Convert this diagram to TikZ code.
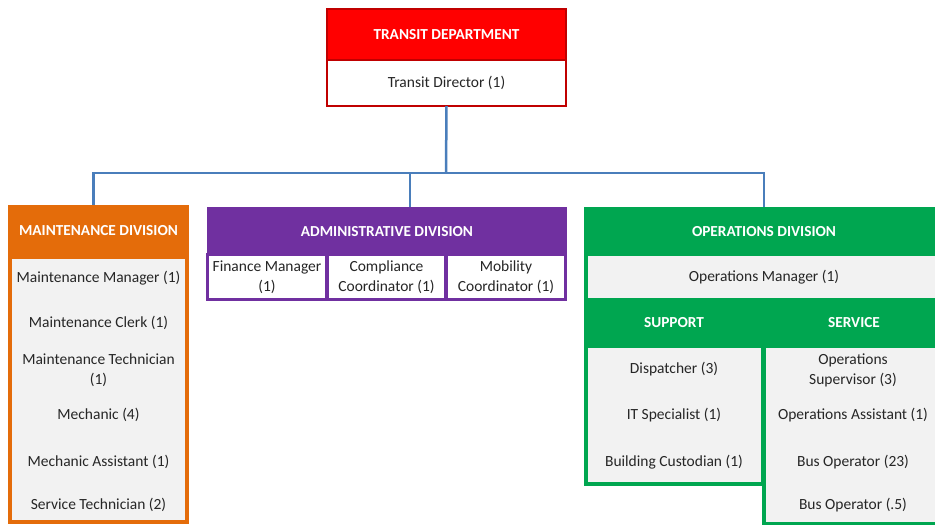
\documentclass[tikz,border=0pt]{standalone}
\usepackage{fontspec}
\setmainfont{Carlito}
\definecolor{deptfill}{HTML}{FF0000}
\definecolor{deptedge}{HTML}{C00000}
\definecolor{maintfill}{HTML}{E46C0A}
\definecolor{adminfill}{HTML}{7030A0}
\definecolor{opsfill}{HTML}{00A650}
\definecolor{listfill}{HTML}{F2F2F2}
\definecolor{linkedge}{HTML}{4A7EBB}
\definecolor{posttext}{HTML}{262626}

\begin{document}
\begin{tikzpicture}[x=1pt, y=-1pt,
  divhead/.style={rectangle, fill=#1, text=white, inner sep=0pt, outer sep=0pt,
                  font=\fontsize{15.3}{18}\selectfont\bfseries},
  divbody/.style 2 args={rectangle, draw=#1, line width=#2, fill=listfill,
                  inner sep=0pt, outer sep=0pt},
  post/.style={align=center, text=posttext, font=\fontsize{15.5}{20}\selectfont},
  link/.style={draw=linkedge, line width=2.5pt},
]
\useasboundingbox (0,0) rectangle (935,525);
\clip (0,0) rectangle (935,525);
% ================= department (top) ========================================
\node[divhead=deptfill, draw=deptedge, line width=2.5pt, minimum width=239pt,
      minimum height=51pt] (dept) at (446.5,34.5) {TRANSIT DEPARTMENT};
\node[divbody={deptedge}{2.5pt}, post, fill=white, minimum width=239pt,
      minimum height=46pt, anchor=north] (director) at (dept.south) {Transit Director (1)};
% ================= maintenance division (left) =============================
\node[divhead=maintfill, minimum width=181pt, minimum height=52pt] (maint) at (98.5,231) {MAINTENANCE DIVISION};
\node[divbody={maintfill}{4pt}, minimum width=177pt, minimum height=265pt,
      anchor=north] (maintlist) at (maint.south) {};
\node[post] (mmgr) at (98.5,278) {Maintenance Manager (1)};
\node[post] (mclerk) at (98.5,323) {Maintenance Clerk (1)};
\node[post] (mtech) at (98.5,370) {Maintenance Technician\\(1)};
\node[post] (mechanic) at (98.5,415) {Mechanic (4)};
\node[post] (mechassist) at (98.5,462) {Mechanic Assistant (1)};
\node[post] (servtech) at (98.5,505) {Service Technician (2)};
% ================= administrative division (middle) ========================
\node[divhead=adminfill, minimum width=360pt, minimum height=49pt] (admin) at (387,231.5) {ADMINISTRATIVE DIVISION};
\node[divbody={adminfill}{3pt}, post, fill=white, minimum width=119pt,
      minimum height=45pt] (finance) at (267,277) {Finance Manager\\(1)};
\node[divbody={adminfill}{3pt}, post, fill=white, minimum width=118pt,
      minimum height=45pt] (compliance) at (386.5,277) {Compliance\\Coordinator (1)};
\node[divbody={adminfill}{3pt}, post, fill=white, minimum width=119pt,
      minimum height=45pt] (mobility) at (506,277) {Mobility\\Coordinator (1)};
% ================= operations division (right, runs off the edge) ==========
\node[divhead=opsfill, minimum width=360pt, minimum height=49pt] (ops) at (764,231.5) {OPERATIONS DIVISION};
\node[divbody={opsfill}{4pt}, post, minimum width=356pt, minimum height=46pt] (opsmgr) at (764,277) {Operations Manager (1)};
\node[divhead=opsfill, minimum width=180pt, minimum height=50pt] (support) at (674,323) {SUPPORT};
\node[divhead=opsfill, minimum width=180pt, minimum height=50pt] (service) at (854,323) {SERVICE};
\node[divbody={opsfill}{4pt}, minimum width=177pt, minimum height=138pt] (supportlist) at (674.5,415) {};
\node[divbody={opsfill}{4pt}, minimum width=182pt, minimum height=178pt] (servicelist) at (855,435) {};
% support column
\node[post] (dispatcher) at (674,369) {Dispatcher (3)};
\node[post] (itspec) at (674,415) {IT Specialist (1)};
\node[post] (custodian) at (674,462) {Building Custodian (1)};
% service column
\node[post] (supervisor) at (853,370) {Operations\\Supervisor (3)};
\node[post] (opsassist) at (853,415) {Operations Assistant (1)};
\node[post] (busop) at (853,462) {Bus Operator (23)};
\node[post] (busophalf) at (853,505) {Bus Operator (.5)};
% ================= reporting lines =========================================
\coordinate (bus) at (446,173);
\draw[link] (director.south) -- (bus);
\draw[link] ([xshift=-5pt]maint.north) |- (bus);
\draw[link] ([xshift=23pt]admin.north) |- (bus);
\draw[link] (ops.north) |- (bus);
\end{tikzpicture}
\end{document}
